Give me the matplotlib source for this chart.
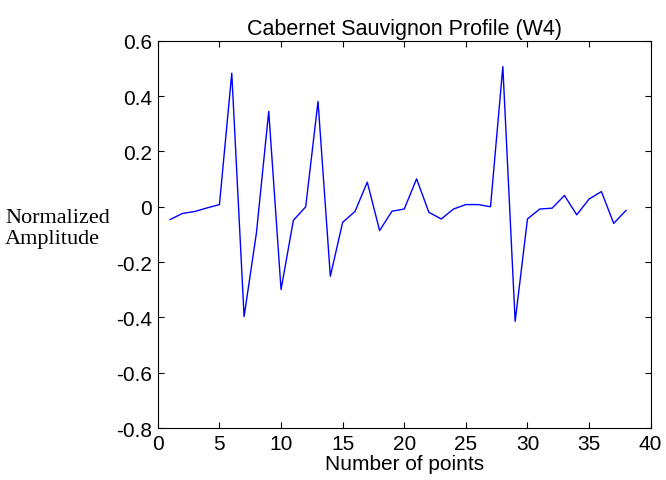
import matplotlib
matplotlib.use("Agg")
import matplotlib.pyplot as plt

# profile values
points = list(range(1, 39))
amplitude = [-0.046, -0.024, -0.017, -0.004, 0.008, 0.483, -0.397, -0.095, 0.345, -0.299,
             -0.049, 0.0, 0.381, -0.251, -0.056, -0.017, 0.089, -0.086, -0.016, -0.008,
             0.101, -0.020, -0.044, -0.008, 0.008, 0.008, 0.0, 0.507, -0.414, -0.044,
             -0.008, -0.005, 0.041, -0.029, 0.028, 0.055, -0.060, -0.013]
xticks = [0, 5, 10, 15, 20, 25, 30, 35, 40]
yticks = [-0.8, -0.6, -0.4, -0.2, 0, 0.2, 0.4, 0.6]
ytick_labels = ["-0.8", "-0.6", "-0.4", "-0.2", "0", "0.2", "0.4", "0.6"]

plt.rcParams['font.family'] = ['Liberation Sans', 'DejaVu Sans']
plt.rcParams['axes.unicode_minus'] = False

fig = plt.figure(figsize=(6.66, 4.81), dpi=100)
ax = fig.add_axes([0.237, 0.108, 0.74, 0.805])

ax.plot(points, amplitude, color='#0000ff', linewidth=1.0)

ax.set_xlim(0, 40)
ax.set_ylim(-0.8, 0.6)
ax.set_xticks(xticks)
ax.set_yticks(yticks)
ax.set_yticklabels(ytick_labels)
ax.tick_params(direction='in', top=True, right=True, length=4, width=0.8,
               labelsize=15, pad=4)
for s in ax.spines.values():
    s.set_linewidth(0.8)

ax.set_title('Cabernet Sauvignon Profile (W4)', fontsize=15.5, pad=5)
ax.set_xlabel('Number of points', fontsize=15, labelpad=1)
fig.text(5 / 666, 1 - 229 / 481, 'Normalized\nAmplitude', family='Liberation Serif',
         fontsize=16, ha='left', va='center', linespacing=1.15)

fig.savefig('out.png', dpi=100)
